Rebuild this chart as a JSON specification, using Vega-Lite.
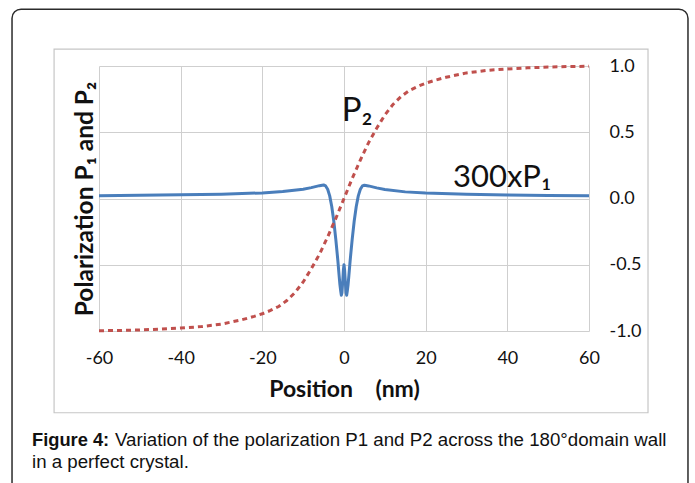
{
  "$schema": "https://vega.github.io/schema/vega-lite/v6.json",
  "width": 490,
  "height": 265,
  "autosize": "none",
  "padding": {"left": 99, "top": 66, "right": 106, "bottom": 152},
  "background": "white",
  "config": {
    "view": {"stroke": null},
    "font": "Lato",
    "axis": {"gridColor": "#cfcfcf", "gridWidth": 1, "domain": false, "ticks": false, "labelColor": "#111", "titleColor": "#111"}
  },
  "datasets": {
    "one": [{}],
    "p1": [
      {"position": -60, "value": 0.020},
      {"position": -50, "value": 0.024},
      {"position": -40, "value": 0.028},
      {"position": -30, "value": 0.033},
      {"position": -20, "value": 0.042},
      {"position": -15, "value": 0.052},
      {"position": -10, "value": 0.070},
      {"position": -8, "value": 0.082},
      {"position": -6, "value": 0.097},
      {"position": -5, "value": 0.102},
      {"position": -4.5, "value": 0.095},
      {"position": -4, "value": 0.07},
      {"position": -3.5, "value": 0.02},
      {"position": -3, "value": -0.06},
      {"position": -2.5, "value": -0.17},
      {"position": -2, "value": -0.31},
      {"position": -1.5, "value": -0.47},
      {"position": -1.2, "value": -0.58},
      {"position": -1, "value": -0.65},
      {"position": -0.8, "value": -0.70},
      {"position": -0.65, "value": -0.73},
      {"position": -0.5, "value": -0.71},
      {"position": -0.3, "value": -0.62},
      {"position": -0.15, "value": -0.54},
      {"position": 0, "value": -0.50},
      {"position": 0.15, "value": -0.54},
      {"position": 0.3, "value": -0.62},
      {"position": 0.5, "value": -0.71},
      {"position": 0.65, "value": -0.73},
      {"position": 0.8, "value": -0.70},
      {"position": 1, "value": -0.65},
      {"position": 1.2, "value": -0.58},
      {"position": 1.5, "value": -0.47},
      {"position": 2, "value": -0.31},
      {"position": 2.5, "value": -0.17},
      {"position": 3, "value": -0.06},
      {"position": 3.5, "value": 0.02},
      {"position": 4, "value": 0.07},
      {"position": 4.5, "value": 0.095},
      {"position": 5, "value": 0.100},
      {"position": 6, "value": 0.095},
      {"position": 8, "value": 0.080},
      {"position": 10, "value": 0.068},
      {"position": 15, "value": 0.050},
      {"position": 20, "value": 0.041},
      {"position": 30, "value": 0.032},
      {"position": 40, "value": 0.027},
      {"position": 50, "value": 0.023},
      {"position": 60, "value": 0.020}
    ],
    "p2": [
      {"position": -60, "value": -0.998},
      {"position": -55, "value": -0.996},
      {"position": -50, "value": -0.992},
      {"position": -45, "value": -0.986},
      {"position": -40, "value": -0.978},
      {"position": -35, "value": -0.967},
      {"position": -30, "value": -0.948},
      {"position": -25, "value": -0.915},
      {"position": -22, "value": -0.89},
      {"position": -20, "value": -0.87},
      {"position": -18, "value": -0.845},
      {"position": -16, "value": -0.815},
      {"position": -14, "value": -0.77},
      {"position": -12, "value": -0.71},
      {"position": -10, "value": -0.63},
      {"position": -9, "value": -0.58},
      {"position": -8, "value": -0.53},
      {"position": -7, "value": -0.475},
      {"position": -6, "value": -0.42},
      {"position": -5, "value": -0.355},
      {"position": -4, "value": -0.29},
      {"position": -3, "value": -0.22},
      {"position": -2, "value": -0.15},
      {"position": -1, "value": -0.075},
      {"position": 0, "value": 0},
      {"position": 1, "value": 0.075},
      {"position": 2, "value": 0.15},
      {"position": 3, "value": 0.22},
      {"position": 4, "value": 0.29},
      {"position": 5, "value": 0.355},
      {"position": 6, "value": 0.42},
      {"position": 7, "value": 0.475},
      {"position": 8, "value": 0.53},
      {"position": 9, "value": 0.58},
      {"position": 10, "value": 0.63},
      {"position": 12, "value": 0.71},
      {"position": 14, "value": 0.77},
      {"position": 16, "value": 0.815},
      {"position": 18, "value": 0.845},
      {"position": 20, "value": 0.87},
      {"position": 22, "value": 0.89},
      {"position": 25, "value": 0.915},
      {"position": 30, "value": 0.948},
      {"position": 35, "value": 0.967},
      {"position": 40, "value": 0.978},
      {"position": 45, "value": 0.986},
      {"position": 50, "value": 0.992},
      {"position": 55, "value": 0.996},
      {"position": 60, "value": 0.998}
    ]
  },
  "resolve": {"axis": {"x": "independent", "y": "independent"}},
  "layer": [
    {
      "data": {"name": "one"},
      "mark": {"type": "rect", "fill": null, "stroke": "#2b2b2b", "strokeWidth": 1.5, "cornerRadius": 9, "clip": false},
      "encoding": {
        "x": {"datum": -81.3, "type": "quantitative", "scale": {"domain": [-60, 60], "nice": false, "zero": false}, "axis": null},
        "x2": {"datum": 84.24},
        "y": {"datum": 1.429, "type": "quantitative", "scale": {"domain": [-1, 1], "nice": false, "zero": false}, "axis": null},
        "y2": {"datum": -2.25}
      }
    },
    {
      "data": {"name": "one"},
      "mark": {"type": "rect", "fill": null, "stroke": "#c6c6c6", "strokeWidth": 1.2, "clip": false},
      "encoding": {
        "x": {"datum": -71.0, "type": "quantitative", "axis": null},
        "x2": {"datum": 74.45},
        "y": {"datum": 1.128, "type": "quantitative", "axis": null},
        "y2": {"datum": -1.617}
      }
    },
    {
      "data": {"name": "p1"},
      "mark": {"type": "line", "color": "#4a7ebb", "strokeWidth": 3, "strokeJoin": "round"},
      "encoding": {
        "x": {
          "field": "position", "type": "quantitative",
          "scale": {"domain": [-60, 60], "nice": false, "zero": false},
          "axis": {
            "values": [-60, -40, -20, 0, 20, 40, 60], "grid": true, "labelFlush": false,
            "labelExpr": "datum.value < 0 ? '-' + format(-datum.value, 'd') : format(datum.value, 'd')",
            "labelFontSize": 18, "labelPadding": 18,
            "title": "Position\u00a0\u00a0\u00a0\u00a0(nm)", "titleFontSize": 23, "titleFontWeight": "bold", "titlePadding": 11
          }
        },
        "y": {
          "field": "value", "type": "quantitative",
          "scale": {"domain": [-1, 1], "nice": false, "zero": false},
          "axis": {
            "orient": "right", "grid": true, "labelFlush": false,
            "values": [-1, -0.5, 0, 0.5, 1],
            "labelExpr": "datum.value < 0 ? '-' + format(-datum.value, '.1f') : format(datum.value, '.1f')",
            "labelFontSize": 18, "labelPadding": 20, "labelAlign": "left",
            "title": null
          }
        }
      }
    },
    {
      "data": {"name": "p2"},
      "mark": {"type": "line", "color": "#c0504d", "strokeWidth": 3, "strokeDash": [5, 4]},
      "encoding": {
        "x": {"field": "position", "type": "quantitative", "axis": null},
        "y": {
          "field": "value", "type": "quantitative",
          "axis": {
            "orient": "left", "labels": false, "grid": false,
            "title": "Polarization P\u2081 and P\u2082", "titleFontSize": 24.5, "titleFontWeight": "bold", "titlePadding": 2
          }
        }
      }
    },
    {
      "data": {"name": "one"},
      "mark": {"type": "text", "text": "P\u2082", "font": "Lato", "fontSize": 33, "align": "left", "baseline": "alphabetic", "color": "#111"},
      "encoding": {
        "x": {"datum": -0.56, "type": "quantitative", "axis": null},
        "y": {"datum": 0.586, "type": "quantitative", "axis": null}
      }
    },
    {
      "data": {"name": "one"},
      "mark": {"type": "text", "text": "300xP\u2081", "font": "Lato", "fontSize": 31, "align": "left", "baseline": "alphabetic", "color": "#111"},
      "encoding": {
        "x": {"datum": 26.7, "type": "quantitative", "axis": null},
        "y": {"datum": 0.0885, "type": "quantitative", "axis": null}
      }
    },
    {
      "data": {"name": "one"},
      "mark": {"type": "text", "text": "Figure 4:", "font": "Liberation Sans", "fontSize": 18.3, "fontWeight": "bold", "align": "left", "baseline": "alphabetic", "color": "#111", "clip": false},
      "encoding": {
        "x": {"datum": -76.41, "type": "quantitative", "axis": null},
        "y": {"datum": -1.870, "type": "quantitative", "axis": null}
      }
    },
    {
      "data": {"name": "one"},
      "mark": {"type": "text", "text": "Variation of the polarization P1 and P2 across the 180\u00b0domain wall", "font": "Liberation Sans", "fontSize": 18.7, "align": "left", "baseline": "alphabetic", "color": "#111", "clip": false},
      "encoding": {
        "x": {"datum": -56.08, "type": "quantitative", "axis": null},
        "y": {"datum": -1.870, "type": "quantitative", "axis": null}
      }
    },
    {
      "data": {"name": "one"},
      "mark": {"type": "text", "text": "in a perfect crystal.", "font": "Liberation Sans", "fontSize": 18.7, "align": "left", "baseline": "alphabetic", "color": "#111", "clip": false},
      "encoding": {
        "x": {"datum": -76.41, "type": "quantitative", "axis": null},
        "y": {"datum": -2.036, "type": "quantitative", "axis": null}
      }
    }
  ]
}
